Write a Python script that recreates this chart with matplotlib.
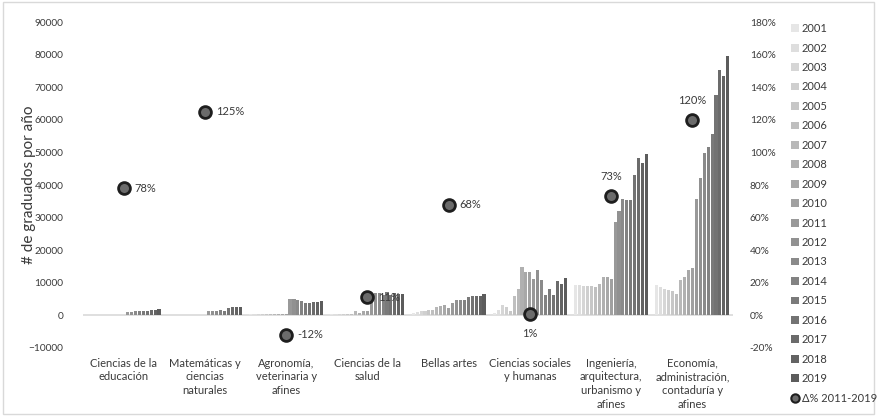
import numpy as np
import matplotlib
matplotlib.use("Agg")
import matplotlib.pyplot as plt
from matplotlib.patches import Patch, Rectangle
from matplotlib.lines import Line2D
from matplotlib.ticker import FuncFormatter

plt.rcParams['font.family'] = ['Lato', 'DejaVu Sans']

years = [str(y) for y in range(2001, 2020)]
categorias = [
    "Ciencias de la\neducación",
    "Matemáticas y\nciencias\nnaturales",
    "Agronomía,\nveterinaria y\nafines",
    "Ciencias de la\nsalud",
    "Bellas artes",
    "Ciencias sociales\ny humanas",
    "Ingeniería,\narquitectura,\nurbanismo y\nafines",
    "Economía,\nadministración,\ncontaduría y\nafines",
]

# graduados por año, 2001-2019
educacion = [100, 100, 100, 100, 100, 100, 100, 100, 120, 150,
             1100, 1100, 1300, 1500, 1300, 1500, 1600, 1600, 1950]
matematicas = [100, 100, 100, 100, 100, 100, 100, 100, 120, 150,
               1200, 1200, 1500, 1800, 1300, 2300, 2700, 2700, 2700]
agronomia = [300, 300, 300, 300, 300, 350, 350, 500, 500, 500,
             5100, 5100, 4800, 4500, 3700, 3700, 4100, 4100, 4500]
salud = [350, 350, 350, 350, 350, 400, 1300, 800, 1300, 1400,
         6000, 7000, 7000, 6300, 7200, 6300, 7000, 6500, 6700]
bellas_artes = [800, 1000, 1300, 1300, 1600, 1600, 2700, 2900, 3200, 2400,
                3950, 4700, 4700, 4700, 5600, 6000, 6000, 6000, 6650]
sociales = [600, 1800, 3200, 2700, 1300, 5900, 8200, 14800, 13300, 13300,
            11300, 14000, 10800, 6200, 8200, 6200, 10500, 9500, 11400]
ingenieria = [9200, 9200, 9000, 9000, 9000, 8700, 9600, 11700, 11700, 11300,
              28500, 31900, 35800, 35300, 35300, 43200, 48300, 46700, 49500]
economia = [9400, 8600, 8200, 7900, 7400, 6550, 10900, 11650, 14000, 14500,
            35800, 42100, 49800, 51800, 55700, 67700, 75400, 73600, 79500]

# variación 2011-2019 (%)
delta = [78, 125, -12, 11, 68, 1, 73, 120]

series = [educacion, matematicas, agronomia, salud, bellas_artes,
          sociales, ingenieria, economia]
data = np.array(series).T  # filas = años

txt = '#3a3a3a'
grays = [str(g) for g in np.linspace(0.90, 0.36, len(years))]

fig = plt.figure(figsize=(8.77, 4.16), dpi=100)
ax = fig.add_axes([0.0946, 0.1635, 0.7412, 0.7835])
ax2 = ax.twinx()

x = np.arange(len(categorias))
slot = 0.92 / len(years)
for j, yr in enumerate(years):
    ax.bar(x + (j - 9) * slot, data[j], width=slot * 0.78,
           color=grays[j], linewidth=0, zorder=2)

ax.axhline(0, color='#d9d9d9', lw=1.2, zorder=1)
ax.set_xlim(-0.5, 7.5)
ax.set_ylim(-10000, 90000)
ax.set_yticks(range(-10000, 90001, 10000))
ax.set_xticks(x)
ax.set_xticklabels(categorias, fontsize=8, color=txt, linespacing=1.3)
ax.tick_params(axis='x', length=0, pad=7)
ax.tick_params(axis='y', length=0, labelsize=7.3, labelcolor=txt, pad=14)
ax.set_ylabel('# de graduados por año', fontsize=11, color=txt)
ax.yaxis.set_label_coords(-0.072, 0.5)
for s in ax.spines.values():
    s.set_visible(False)

ax2.set_ylim(-20, 180)
ax2.set_yticks(range(-20, 181, 20))
ax2.yaxis.set_major_formatter(FuncFormatter(lambda v, p: f'{v:.0f}%'))
ax2.tick_params(axis='y', length=0, labelsize=7.3, labelcolor=txt, pad=12)
for s in ax2.spines.values():
    s.set_visible(False)

ax2.plot(x, delta, linestyle='none', marker='o', markersize=8.5,
         mfc='#6b6b6b', mec='#1e1e1e', mew=2, zorder=5)

# posición de cada etiqueta respecto al punto
offsets = [(8, 0, 'left', 'center')] * 5 + [(0, -14, 'center', 'center'),
                                            (0, 14, 'center', 'center'),
                                            (0, 14, 'center', 'center')]
for xi, d, (dx, dy, ha, va) in zip(x, delta, offsets):
    ax2.annotate(f'{d}%', (xi, d), xytext=(dx, dy), textcoords='offset points',
                 ha=ha, va=va, fontsize=8, color=txt, zorder=6)

handles = [Patch(facecolor=grays[j], edgecolor='none', label=yr)
           for j, yr in enumerate(years)]
handles.append(Line2D([], [], linestyle='none', marker='o', markersize=6,
                      mfc='#6b6b6b', mec='#1e1e1e', mew=1.5,
                      label='Δ% 2011-2019'))
fig.legend(handles=handles, loc='upper left', bbox_to_anchor=(0.897, 0.955),
           frameon=False, fontsize=8, handlelength=0.7, handleheight=0.7,
           handletextpad=0.25, labelspacing=0.76, borderaxespad=0,
           labelcolor=txt)

fig.patches.append(Rectangle((0.003, 0.004), 0.994, 0.99, transform=fig.transFigure,
                             fill=False, ec='#d9d9d9', lw=1))

fig.savefig('out.png', dpi=100)
